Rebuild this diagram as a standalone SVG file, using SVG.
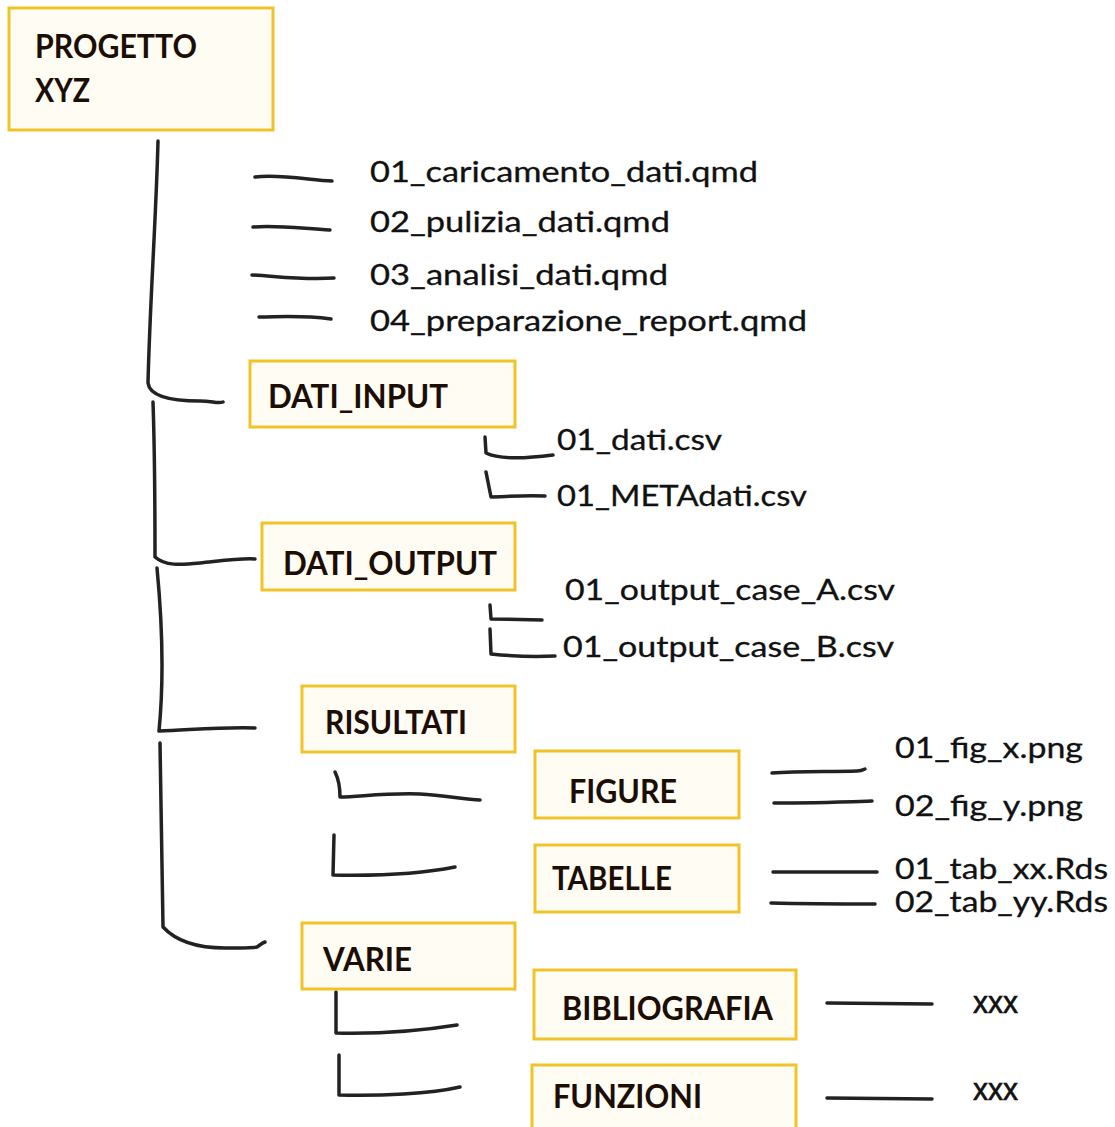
<svg xmlns="http://www.w3.org/2000/svg" width="1115" height="1127" viewBox="0 0 1115 1127">
<style>
.box{fill:#fffcf4;stroke:#f0c428;stroke-width:3}
.hd{font-family:Lato,"Liberation Sans",sans-serif;font-weight:700;font-size:32px;fill:#1c0e04}
.lb{font-family:Lato,"Liberation Sans",sans-serif;font-size:28px;fill:#111;stroke:#111;stroke-width:0.3}
.xx{font-family:"Liberation Sans",Arial,sans-serif;font-size:31px;fill:#111;stroke:#111;stroke-width:0.6}
.ln{fill:none;stroke:#222;stroke-width:3.5;stroke-linecap:round;stroke-linejoin:round}
</style>
<rect width="1115" height="1127" fill="#fff"/>
<g id="connectors">
<path class="ln" d="M158,141 C156,220 150,300 148,383 C150,398 175,401 200,401 C212,401 218,404 223,402"/>
<path class="ln" d="M255,177 C280,174 310,180 332,181"/>
<path class="ln" d="M253,227 C280,225 305,229 330,230"/>
<path class="ln" d="M252,275 C275,276 300,280 334,278"/>
<path class="ln" d="M259,317 C280,317 300,315 331,319"/>
<path class="ln" d="M153,402 C155,460 155,510 155,557 C165,566 180,565 200,563 C220,561 240,558 255,559"/>
<path class="ln" d="M157,568 C162,620 164,680 159,731 C190,730 220,727 255,728"/>
<path class="ln" d="M160,743 C161,800 162,870 163,927 C175,940 195,948 225,948 C240,948 252,948 257,947 C260,945 262,943 265,942"/>
<path class="ln" d="M485,437 L486,453 C500,460 530,458 553,455"/>
<path class="ln" d="M486,472 L491,497 C510,496 530,495 545,496"/>
<path class="ln" d="M490,605 L491,619 L542,620"/>
<path class="ln" d="M490,629 L491,654 C510,656 535,657 555,656"/>
<path class="ln" d="M335,772 C339,780 340,790 340,797 C360,797 380,793 420,794 C445,795 465,800 480,800"/>
<path class="ln" d="M334,835 L333,875 C380,876 420,874 455,867"/>
<path class="ln" d="M336,992 L336,1033 C380,1034 420,1031 457,1025"/>
<path class="ln" d="M339,1055 L339,1095 C380,1096 430,1094 460,1087"/>
<path class="ln" d="M772,773 C800,771 830,772 857,771 C861,771 863,770 865,769"/>
<path class="ln" d="M774,803 C810,803 840,802 872,801"/>
<path class="ln" d="M773,872 L877,872"/>
<path class="ln" d="M771,903 C810,904 845,904 875,904"/>
<path class="ln" d="M827,1003 L932,1004"/>
<path class="ln" d="M827,1098 L932,1099"/>
</g>
<g id="progetto"><rect class="box" x="9" y="8" width="264" height="122"/><text class="hd" x="35" y="58" textLength="162" lengthAdjust="spacingAndGlyphs" font-size="30">PROGETTO</text><text class="hd" x="35" y="102" textLength="55" lengthAdjust="spacingAndGlyphs" font-size="30">XYZ</text></g>
<g id="dati_input"><rect class="box" x="250" y="361" width="265" height="66"/><text class="hd" x="268" y="408" textLength="180" lengthAdjust="spacingAndGlyphs">DATI_INPUT</text></g>
<g id="dati_output"><rect class="box" x="262" y="523" width="253" height="67"/><text class="hd" x="283" y="575" textLength="214" lengthAdjust="spacingAndGlyphs">DATI_OUTPUT</text></g>
<g id="risultati"><rect class="box" x="302" y="686" width="213" height="66"/><text class="hd" x="325" y="734" textLength="142" lengthAdjust="spacingAndGlyphs">RISULTATI</text></g>
<g id="figure"><rect class="box" x="535" y="751" width="204" height="67"/><text class="hd" x="569" y="803" textLength="108" lengthAdjust="spacingAndGlyphs">FIGURE</text></g>
<g id="tabelle"><rect class="box" x="535" y="845" width="204" height="67"/><text class="hd" x="552" y="890" textLength="120" lengthAdjust="spacingAndGlyphs">TABELLE</text></g>
<g id="varie"><rect class="box" x="302" y="923" width="213" height="66"/><text class="hd" x="323" y="971" textLength="89" lengthAdjust="spacingAndGlyphs">VARIE</text></g>
<g id="bibliografia"><rect class="box" x="534" y="970" width="262" height="69"/><text class="hd" x="562" y="1020" textLength="211" lengthAdjust="spacingAndGlyphs">BIBLIOGRAFIA</text></g>
<g id="funzioni"><rect class="box" x="532" y="1065" width="264" height="80"/><text class="hd" x="553" y="1108" textLength="149" lengthAdjust="spacingAndGlyphs">FUNZIONI</text></g>
<g id="files">
<text class="lb" x="370" y="182" textLength="388" lengthAdjust="spacingAndGlyphs">01_caricamento_dati.qmd</text>
<text class="lb" x="370" y="232" textLength="300" lengthAdjust="spacingAndGlyphs">02_pulizia_dati.qmd</text>
<text class="lb" x="370" y="285" textLength="298" lengthAdjust="spacingAndGlyphs">03_analisi_dati.qmd</text>
<text class="lb" x="370" y="331" textLength="437" lengthAdjust="spacingAndGlyphs">04_preparazione_report.qmd</text>
<text class="lb" x="557" y="450" textLength="165" lengthAdjust="spacingAndGlyphs">01_dati.csv</text>
<text class="lb" x="557" y="506" textLength="250" lengthAdjust="spacingAndGlyphs">01_METAdati.csv</text>
<text class="lb" x="565" y="600" textLength="330" lengthAdjust="spacingAndGlyphs">01_output_case_A.csv</text>
<text class="lb" x="563" y="657" textLength="331" lengthAdjust="spacingAndGlyphs">01_output_case_B.csv</text>
<text class="lb" x="895" y="758" textLength="188" lengthAdjust="spacingAndGlyphs">01_fig_x.png</text>
<text class="lb" x="895" y="816" textLength="188" lengthAdjust="spacingAndGlyphs">02_fig_y.png</text>
<text class="lb" x="895" y="879" textLength="213" lengthAdjust="spacingAndGlyphs">01_tab_xx.Rds</text>
<text class="lb" x="895" y="912" textLength="213" lengthAdjust="spacingAndGlyphs">02_tab_yy.Rds</text>
<text class="xx" x="973" y="1013" textLength="45" lengthAdjust="spacingAndGlyphs">xxx</text>
<text class="xx" x="973" y="1100" textLength="45" lengthAdjust="spacingAndGlyphs">xxx</text>
</g>
</svg>
